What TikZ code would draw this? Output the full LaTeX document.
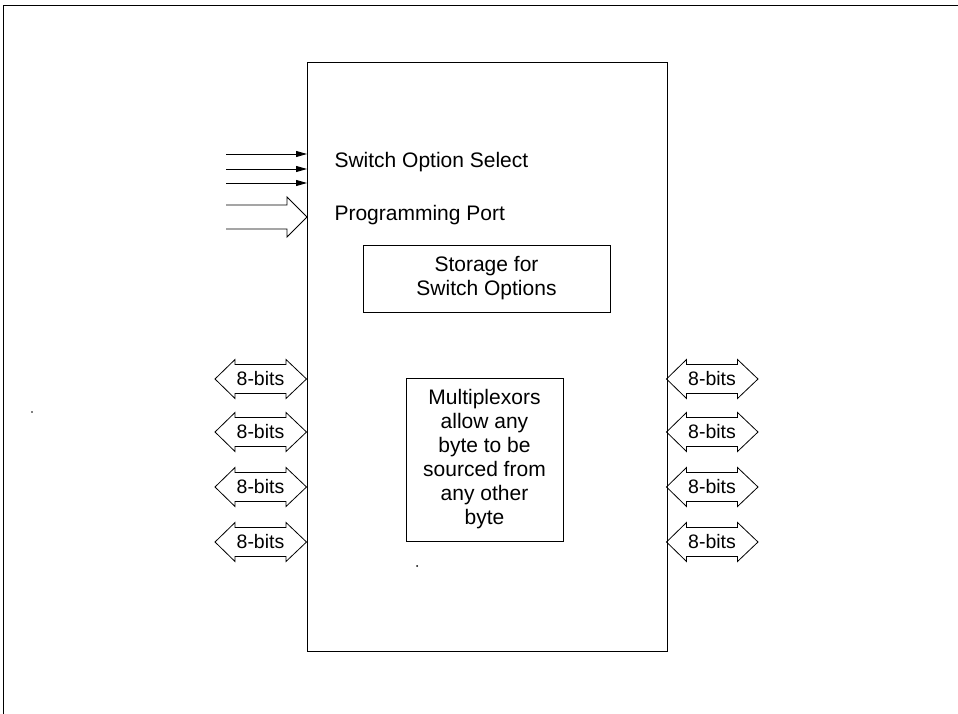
\documentclass[tikz,border=0pt]{standalone}
\usepackage{fontspec}
\setmainfont{Liberation Sans}
\usetikzlibrary{arrows.meta}

% 8-bit bus: double arrow centred at (#2,#3), label node #1
\newcommand{\busarrow}[3]{%
  \draw[bus] (#2-45.5,#3) -- ++(20,-19.5) -- ++(0,5) -- ++(51,0) -- ++(0,-5)
    -- ++(20.5,19.5) -- ++(-20.5,19.5) -- ++(0,-5) -- ++(-51,0) -- ++(0,5) -- cycle;
  \node[buslabel] (#1) at (#2,#3) {8-bits};}

\begin{document}
\begin{tikzpicture}[x=1pt, y=-1pt, >=Stealth,
    line/.style={line width=0.9pt},
    bus/.style={line width=0.8pt},
    label/.style={font=\fontsize{21}{24}\selectfont},
    buslabel/.style={font=\fontsize{19.5}{22}\selectfont, inner sep=0pt},
    box/.style={draw, line width=0.9pt, align=center, font=\fontsize{21}{24}\selectfont}]

  \useasboundingbox (0,0) rectangle (958,714);

  % Frame
  \draw[line] (958,5) -- (3,5) -- (3,714);

  % Chip
  \node[draw, line width=1pt, anchor=north west, minimum width=360pt,
        minimum height=589pt, inner sep=0pt] (chip) at (307,62) {};

  % Inputs
  \foreach \y in {154,169,183}
    \draw[line, -{Triangle[length=11pt, width=6pt]}] (226,\y) -- (chip.west |- 0,\y);
  \draw[line] (226,205) -- (287,205) -- (287,197) -- (chip.west |- 0,217)
    -- (287,237) -- (287,229) -- (226,229);
  \node[label, anchor=west] (select) at (331,162) {Switch Option Select};
  \node[label, anchor=west] (port) at (331,215) {Programming Port};

  % Inner blocks
  \node[box, minimum width=247pt, minimum height=67pt, inner sep=0pt] (storage)
    at (486.5,278.5) {Storage for\\Switch Options};
  \node[box, minimum width=157pt, minimum height=163pt, inner sep=0pt] (mux)
    at (484.5,459.5) {Multiplexors\\allow any\\byte to be\\sourced from\\any other\\byte};

  % Buses
  \foreach \y [count=\i] in {379,432,487,542} {
    \busarrow{busl\i}{260.5}{\y}
    \busarrow{busr\i}{712}{\y}
  }

  % specks
  \fill (417,566) circle (1pt);
  \fill (32,412) circle (0.9pt);

\end{tikzpicture}
\end{document}
